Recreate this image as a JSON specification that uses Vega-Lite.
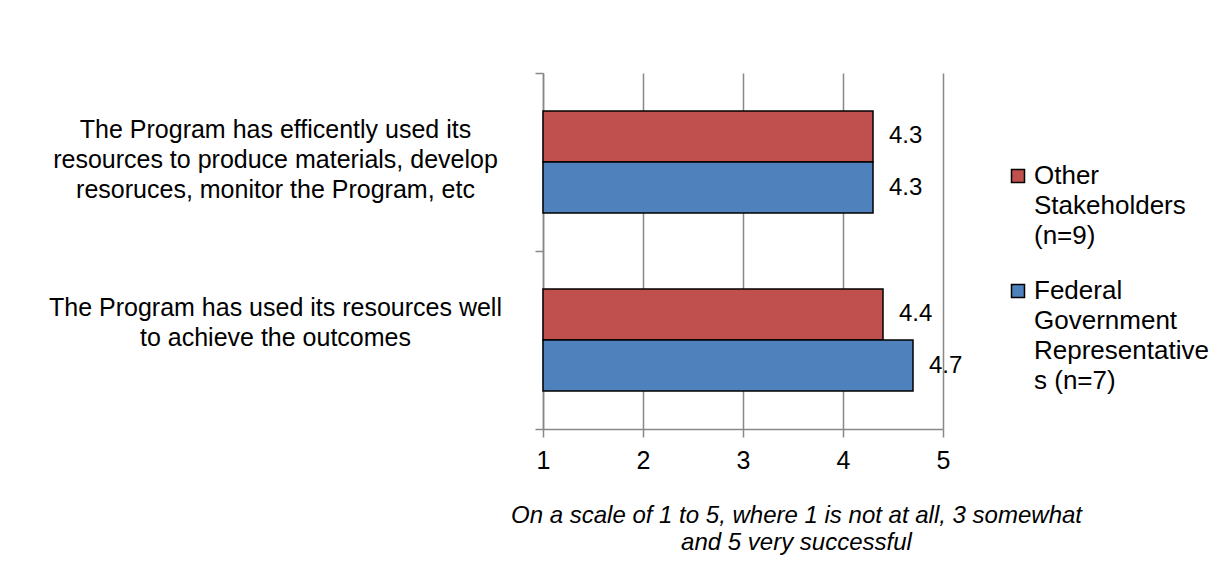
{
  "$schema": "https://vega.github.io/schema/vega-lite/v6.json",
  "width": 400,
  "height": 356,
  "autosize": {"type": "none"},
  "padding": {"left": 543, "top": 73, "right": 273, "bottom": 144},
  "background": "white",
  "config": {
    "font": "Liberation Sans",
    "view": {"stroke": null},
    "style": {"guide-label": {"lineHeight": 30}}
  },
  "data": {
    "values": [
      {"statement": "The Program has efficently used its|resources to produce materials, develop|resoruces, monitor the Program, etc", "group": "Other Stakeholders (n=9)", "score": 4.3},
      {"statement": "The Program has efficently used its|resources to produce materials, develop|resoruces, monitor the Program, etc", "group": "Federal Government Representatives (n=7)", "score": 4.3},
      {"statement": "The Program has used its resources well|to achieve the outcomes", "group": "Other Stakeholders (n=9)", "score": 4.4},
      {"statement": "The Program has used its resources well|to achieve the outcomes", "group": "Federal Government Representatives (n=7)", "score": 4.7}
    ]
  },
  "encoding": {
    "y": {
      "field": "statement",
      "type": "nominal",
      "sort": null,
      "scale": {"paddingInner": 0, "paddingOuter": 0},
      "axis": {
        "title": null,
        "labelExpr": "split(datum.label, '|')",
        "labelFontSize": 25,
        "labelColor": "black",
        "labelAlign": "center",
        "labelBaseline": "middle",
        "labelLineHeight": 30,
        "labelPadding": 260,
        "labelOffset": -33,
        "labelLimit": 800,
        "tickBand": "extent",
        "tickSize": 8,
        "tickColor": "#888888",
        "tickWidth": 1.5,
        "domainColor": "#888888",
        "domainWidth": 1.5,
        "grid": false
      }
    },
    "yOffset": {
      "field": "group",
      "type": "nominal",
      "sort": ["Other Stakeholders (n=9)", "Federal Government Representatives (n=7)"],
      "scale": {"paddingInner": 0, "paddingOuter": 0.745}
    },
    "x": {
      "field": "score",
      "type": "quantitative",
      "scale": {"domain": [1, 5], "zero": false, "nice": false},
      "axis": {
        "values": [1, 2, 3, 4, 5],
        "format": "d",
        "labelFontSize": 25,
        "labelColor": "black",
        "labelPadding": 11,
        "labelFlush": false,
        "tickSize": 8,
        "tickColor": "#888888",
        "tickWidth": 1.5,
        "domainColor": "#888888",
        "domainWidth": 1.5,
        "grid": true,
        "gridColor": "#888888",
        "gridWidth": 1.5,
        "title": ["On a scale of 1 to 5, where 1 is not at all, 3 somewhat", "and 5 very successful"],
        "titleFontSize": 24,
        "titleFontStyle": "italic",
        "titleFontWeight": "normal",
        "titleColor": "black",
        "titleLineHeight": 27,
        "titleAlign": "center",
        "titleBaseline": "alphabetic",
        "titleX": 253,
        "titleY": 93
      }
    }
  },
  "layer": [
    {
      "mark": {"type": "bar", "stroke": "black", "strokeWidth": 1.5},
      "encoding": {
        "x2": {"datum": 1},
        "color": {
          "field": "group",
          "type": "nominal",
          "scale": {
            "domain": ["Other Stakeholders (n=9)", "Federal Government Representatives (n=7)"],
            "range": ["#C0504D", "#4F81BD"]
          },
          "legend": {
            "title": null,
            "orient": "none",
            "legendX": 462,
            "legendY": 90,
            "symbolType": "square",
            "symbolSize": 169,
            "symbolStrokeColor": "black",
            "symbolStrokeWidth": 1.5,
            "labelFontSize": 26,
            "labelColor": "black",
            "labelLimit": 400,
            "labelOffset": 3,
            "rowPadding": 29,
            "labelExpr": "datum.label == 'Other Stakeholders (n=9)' ? ['Other', 'Stakeholders', '(n=9)'] : ['Federal', 'Government', 'Representative', 's (n=7)']"
          }
        }
      }
    },
    {
      "mark": {"type": "text", "align": "left", "baseline": "middle", "dx": 16, "fontSize": 24, "color": "black"},
      "encoding": {
        "text": {"field": "score", "type": "quantitative", "format": ".1f"}
      }
    }
  ]
}
